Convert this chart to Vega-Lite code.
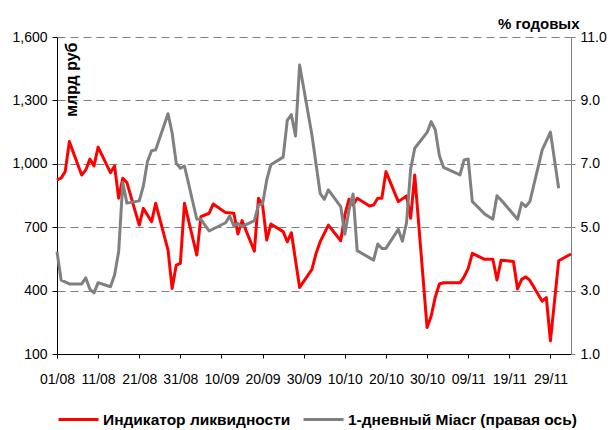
{
  "$schema": "https://vega.github.io/schema/vega-lite/v6.json",
  "width": 514,
  "height": 317,
  "autosize": {"type": "none"},
  "padding": {"left": 57, "top": 37, "right": 40, "bottom": 76},
  "background": "white",
  "config": {
    "font": "Liberation Sans",
    "view": {"stroke": null},
    "axis": {"labelFont": "Liberation Sans", "labelFontSize": 14, "labelColor": "black", "domainColor": "black", "tickColor": "black", "titleFont": "Liberation Sans", "titleColor": "black", "labelFlush": false}
  },
  "datasets": {
    "liq": [
      {"date": "2006-08-01", "value": 924}, {"date": "2006-08-02", "value": 932}, {"date": "2006-08-03", "value": 963}, {"date": "2006-08-04", "value": 1105},
      {"date": "2006-08-07", "value": 947}, {"date": "2006-08-08", "value": 971}, {"date": "2006-08-09", "value": 1022}, {"date": "2006-08-10", "value": 990}, {"date": "2006-08-11", "value": 1079},
      {"date": "2006-08-14", "value": 958}, {"date": "2006-08-15", "value": 990}, {"date": "2006-08-16", "value": 837}, {"date": "2006-08-17", "value": 932}, {"date": "2006-08-18", "value": 911},
      {"date": "2006-08-21", "value": 710}, {"date": "2006-08-22", "value": 789}, {"date": "2006-08-24", "value": 726}, {"date": "2006-08-25", "value": 813},
      {"date": "2006-08-28", "value": 592}, {"date": "2006-08-29", "value": 410}, {"date": "2006-08-30", "value": 521}, {"date": "2006-08-31", "value": 529}, {"date": "2006-09-01", "value": 813},
      {"date": "2006-09-04", "value": 568}, {"date": "2006-09-05", "value": 750}, {"date": "2006-09-07", "value": 766}, {"date": "2006-09-08", "value": 810},
      {"date": "2006-09-11", "value": 769}, {"date": "2006-09-13", "value": 766}, {"date": "2006-09-14", "value": 668}, {"date": "2006-09-15", "value": 731},
      {"date": "2006-09-18", "value": 587}, {"date": "2006-09-19", "value": 837}, {"date": "2006-09-20", "value": 805}, {"date": "2006-09-21", "value": 639}, {"date": "2006-09-22", "value": 715},
      {"date": "2006-09-25", "value": 679}, {"date": "2006-09-26", "value": 631}, {"date": "2006-09-27", "value": 674}, {"date": "2006-09-29", "value": 415},
      {"date": "2006-10-02", "value": 500}, {"date": "2006-10-03", "value": 576}, {"date": "2006-10-04", "value": 631}, {"date": "2006-10-06", "value": 710},
      {"date": "2006-10-09", "value": 636}, {"date": "2006-10-10", "value": 758}, {"date": "2006-10-11", "value": 832}, {"date": "2006-10-12", "value": 805}, {"date": "2006-10-13", "value": 837},
      {"date": "2006-10-16", "value": 800}, {"date": "2006-10-17", "value": 805}, {"date": "2006-10-18", "value": 837}, {"date": "2006-10-19", "value": 837}, {"date": "2006-10-20", "value": 963},
      {"date": "2006-10-23", "value": 821}, {"date": "2006-10-25", "value": 848}, {"date": "2006-10-26", "value": 742}, {"date": "2006-10-27", "value": 947},
      {"date": "2006-10-30", "value": 225}, {"date": "2006-10-31", "value": 280}, {"date": "2006-11-01", "value": 370}, {"date": "2006-11-02", "value": 431}, {"date": "2006-11-03", "value": 437},
      {"date": "2006-11-07", "value": 437}, {"date": "2006-11-08", "value": 465}, {"date": "2006-11-09", "value": 505}, {"date": "2006-11-10", "value": 576},
      {"date": "2006-11-13", "value": 548}, {"date": "2006-11-15", "value": 548}, {"date": "2006-11-16", "value": 450}, {"date": "2006-11-17", "value": 544},
      {"date": "2006-11-20", "value": 538}, {"date": "2006-11-21", "value": 408}, {"date": "2006-11-22", "value": 453}, {"date": "2006-11-23", "value": 465}, {"date": "2006-11-24", "value": 448},
      {"date": "2006-11-27", "value": 350}, {"date": "2006-11-28", "value": 367}, {"date": "2006-11-29", "value": 162}, {"date": "2006-12-01", "value": 541},
      {"date": "2006-12-04", "value": 573}
    ],
    "miacr": [
      {"date": "2006-08-01", "value": 4.23}, {"date": "2006-08-02", "value": 3.33}, {"date": "2006-08-04", "value": 3.21},
      {"date": "2006-08-07", "value": 3.21}, {"date": "2006-08-08", "value": 3.40}, {"date": "2006-08-09", "value": 3.04}, {"date": "2006-08-10", "value": 2.93}, {"date": "2006-08-11", "value": 3.25},
      {"date": "2006-08-14", "value": 3.12}, {"date": "2006-08-15", "value": 3.49}, {"date": "2006-08-16", "value": 4.23}, {"date": "2006-08-17", "value": 6.41}, {"date": "2006-08-18", "value": 5.76},
      {"date": "2006-08-21", "value": 5.83}, {"date": "2006-08-22", "value": 6.30}, {"date": "2006-08-23", "value": 7.07}, {"date": "2006-08-24", "value": 7.41}, {"date": "2006-08-25", "value": 7.44},
      {"date": "2006-08-28", "value": 8.58}, {"date": "2006-08-29", "value": 7.97}, {"date": "2006-08-30", "value": 7.02}, {"date": "2006-08-31", "value": 6.86}, {"date": "2006-09-01", "value": 6.93},
      {"date": "2006-09-04", "value": 5.25}, {"date": "2006-09-05", "value": 5.25}, {"date": "2006-09-07", "value": 4.88},
      {"date": "2006-09-11", "value": 5.14}, {"date": "2006-09-12", "value": 5.35}, {"date": "2006-09-13", "value": 5.04}, {"date": "2006-09-14", "value": 5.12}, {"date": "2006-09-15", "value": 5.02},
      {"date": "2006-09-18", "value": 5.21}, {"date": "2006-09-19", "value": 5.70}, {"date": "2006-09-20", "value": 5.73}, {"date": "2006-09-21", "value": 6.49}, {"date": "2006-09-22", "value": 6.97},
      {"date": "2006-09-25", "value": 7.21}, {"date": "2006-09-26", "value": 8.37}, {"date": "2006-09-27", "value": 8.55}, {"date": "2006-09-28", "value": 7.88}, {"date": "2006-09-29", "value": 10.12},
      {"date": "2006-10-02", "value": 7.91}, {"date": "2006-10-04", "value": 6.07}, {"date": "2006-10-05", "value": 5.88}, {"date": "2006-10-06", "value": 6.18},
      {"date": "2006-10-09", "value": 5.65}, {"date": "2006-10-10", "value": 4.78}, {"date": "2006-10-11", "value": 5.54}, {"date": "2006-10-12", "value": 6.05}, {"date": "2006-10-13", "value": 4.26},
      {"date": "2006-10-17", "value": 3.96}, {"date": "2006-10-18", "value": 4.47}, {"date": "2006-10-19", "value": 4.33}, {"date": "2006-10-20", "value": 4.33},
      {"date": "2006-10-23", "value": 4.93}, {"date": "2006-10-24", "value": 4.56}, {"date": "2006-10-25", "value": 5.14}, {"date": "2006-10-26", "value": 6.83}, {"date": "2006-10-27", "value": 7.49},
      {"date": "2006-10-30", "value": 7.99}, {"date": "2006-10-31", "value": 8.33}, {"date": "2006-11-01", "value": 8.07}, {"date": "2006-11-02", "value": 7.25}, {"date": "2006-11-03", "value": 6.89},
      {"date": "2006-11-07", "value": 6.65}, {"date": "2006-11-08", "value": 7.12}, {"date": "2006-11-09", "value": 7.15}, {"date": "2006-11-10", "value": 5.81},
      {"date": "2006-11-13", "value": 5.42}, {"date": "2006-11-15", "value": 5.25}, {"date": "2006-11-16", "value": 5.99}, {"date": "2006-11-17", "value": 5.86},
      {"date": "2006-11-21", "value": 5.25}, {"date": "2006-11-22", "value": 5.77}, {"date": "2006-11-23", "value": 5.65}, {"date": "2006-11-24", "value": 5.81},
      {"date": "2006-11-27", "value": 7.44}, {"date": "2006-11-29", "value": 8.0}, {"date": "2006-12-01", "value": 6.23}
    ]
  },
  "layer": [
    {
      "data": {"name": "liq"},
      "mark": {"type": "line", "strokeWidth": 3, "strokeJoin": "round"},
      "encoding": {
        "x": {
          "field": "date", "type": "temporal",
          "scale": {"type": "utc", "domain": [{"year": 2006, "month": 8, "date": 1, "utc": true}, {"year": 2006, "month": 12, "date": 4, "utc": true}]},
          "axis": {
            "title": null, "grid": false, "tickSize": 4, "labelPadding": 14, "labelOverlap": false,
            "values": [
              {"year": 2006, "month": 8, "date": 1, "utc": true}, {"year": 2006, "month": 8, "date": 11, "utc": true}, {"year": 2006, "month": 8, "date": 21, "utc": true},
              {"year": 2006, "month": 8, "date": 31, "utc": true}, {"year": 2006, "month": 9, "date": 10, "utc": true}, {"year": 2006, "month": 9, "date": 20, "utc": true},
              {"year": 2006, "month": 9, "date": 30, "utc": true}, {"year": 2006, "month": 10, "date": 10, "utc": true}, {"year": 2006, "month": 10, "date": 20, "utc": true},
              {"year": 2006, "month": 10, "date": 30, "utc": true}, {"year": 2006, "month": 11, "date": 9, "utc": true}, {"year": 2006, "month": 11, "date": 19, "utc": true},
              {"year": 2006, "month": 11, "date": 29, "utc": true}
            ],
            "labelExpr": "utcFormat(datum.value, '%d/%m')"
          }
        },
        "y": {
          "field": "value", "type": "quantitative",
          "scale": {"domain": [100, 1600], "nice": false, "zero": false},
          "axis": {
            "orient": "left", "values": [100, 400, 700, 1000, 1300, 1600], "format": ",d",
            "grid": true, "gridColor": "#808080", "gridDash": [8, 5], "gridWidth": 1,
            "tickSize": 5, "labelPadding": 5,
            "title": "млрд руб", "titleAngle": 270, "titleAlign": "right", "titleBaseline": "middle",
            "titleX": 14, "titleY": 5, "titleFontSize": 16, "titleFontWeight": "bold"
          }
        },
        "color": {
          "datum": "Индикатор ликвидности",
          "scale": {"domain": ["Индикатор ликвидности", "1-дневный Miacr (правая ось)"], "range": ["#ff0000", "#808080"]},
          "legend": {
            "orient": "bottom", "direction": "horizontal", "title": null,
            "symbolType": "stroke", "symbolStrokeWidth": 3, "symbolSize": 1600,
            "labelFontSize": 15.5, "labelFontWeight": "bold", "labelColor": "black", "labelLimit": 400,
            "labelOffset": 3, "columnPadding": 6, "offset": 12, "padding": 0
          }
        }
      }
    },
    {
      "data": {"name": "miacr"},
      "mark": {"type": "line", "strokeWidth": 3, "strokeJoin": "round"},
      "encoding": {
        "x": {"field": "date", "type": "temporal"},
        "y": {
          "field": "value", "type": "quantitative",
          "scale": {"domain": [1, 11], "nice": false, "zero": false},
          "axis": {
            "orient": "right", "values": [1, 3, 5, 7, 9, 11], "format": ".1f", "grid": false,
            "tickSize": 4, "labelPadding": 5, "domainColor": "#808080", "tickColor": "#808080",
            "title": "% годовых", "titleAngle": 0, "titleAlign": "right", "titleBaseline": "alphabetic",
            "titleX": 8, "titleY": -9, "titleFontSize": 15, "titleFontWeight": "bold"
          }
        },
        "color": {"datum": "1-дневный Miacr (правая ось)"}
      }
    }
  ],
  "resolve": {"scale": {"y": "independent"}}
}
